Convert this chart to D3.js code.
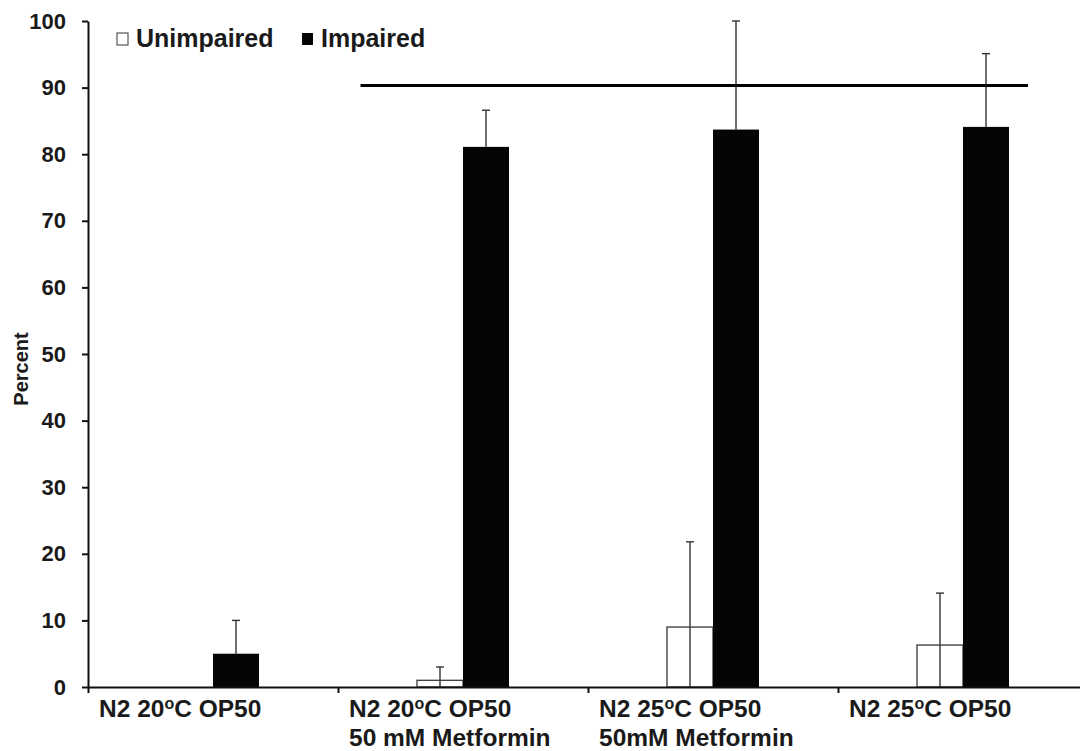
<!DOCTYPE html>
<html>
<head>
<meta charset="utf-8">
<script src="https://cdn.jsdelivr.net/npm/d3@7"></script>
<style>
  body { margin: 0; background: #fff; }
  text { font-family: "Liberation Sans", Arial, sans-serif; font-weight: bold; fill: #1a1a1a; }
</style>
</head>
<body>
<div id="chart"></div>
<script>
// categories (each line of the label, "^o" marks the superscript o)
var categories = [
    ["N2 20^oC OP50"],
    ["N2 20^oC OP50", "50 mM Metformin"],
    ["N2 25^oC OP50", "50mM Metformin"],
    ["N2 25^oC OP50"]
];
var seriesNames = ["Unimpaired", "Impaired"];
var unimpaired = [0, 1.0, 9.0, 6.3];
var unimpairedErr = [0, 2.0, 12.8, 7.8];
var impaired = [5.0, 81.1, 83.7, 84.1];
var impairedErr = [5.0, 5.5, 16.3, 11.0];
var yTicks = [0, 10, 20, 30, 40, 50, 60, 70, 80, 90, 100];
// significance bar: y value, from category index + fraction to category index + fraction
var sigLevel = 90.3;
var sigFrom = 1.09, sigTo = 3.76;

var width = 1080, height = 751;
var margin = {left: 88, top: 21, bottom: 64};
var plotRight = 1088;

var svg = d3.select("#chart").append("svg")
    .attr("width", width)
    .attr("height", height);

var y = d3.scaleLinear().domain([0, 100]).range([height - margin.bottom, margin.top]);
var x = d3.scaleBand().domain(d3.range(categories.length)).range([margin.left, plotRight]).padding(0);
var xPos = d3.scaleLinear().domain([0, categories.length]).range([margin.left, plotRight]);
var bw = x.bandwidth();
var barW = 46;
var x1 = d3.scaleBand().domain(seriesNames).range([bw / 2 - barW, bw / 2 + barW]).padding(0);

// bars
var rows = categories.map(function(c, i) {
    return [
        {s: "Unimpaired", v: unimpaired[i], e: unimpairedErr[i], i: i},
        {s: "Impaired", v: impaired[i], e: impairedErr[i], i: i}
    ];
});
var flat = [].concat.apply([], rows).filter(function(d) { return d.v > 0; });

// error bars (drawn under bars so the stem starts at the bar top)
var err = svg.append("g").selectAll("g")
    .data(flat)
    .enter().append("g");
err.append("line")
    .attr("x1", function(d) { return x(d.i) + x1(d.s) + x1.bandwidth() / 2; })
    .attr("x2", function(d) { return x(d.i) + x1(d.s) + x1.bandwidth() / 2; })
    .attr("y1", function(d) { return d.s === "Unimpaired" ? y(0) : y(d.v); })
    .attr("y2", function(d) { return y(d.v + d.e); })
    .attr("stroke", "#333")
    .attr("stroke-width", 1.4);
err.append("line")
    .attr("x1", function(d) { return x(d.i) + x1(d.s) + x1.bandwidth() / 2 - 4; })
    .attr("x2", function(d) { return x(d.i) + x1(d.s) + x1.bandwidth() / 2 + 4; })
    .attr("y1", function(d) { return y(d.v + d.e); })
    .attr("y2", function(d) { return y(d.v + d.e); })
    .attr("stroke", "#333")
    .attr("stroke-width", 1.4);

svg.append("g").selectAll("rect")
    .data(flat)
    .enter().append("rect")
    .attr("x", function(d) { return x(d.i) + x1(d.s); })
    .attr("y", function(d) { return y(d.v); })
    .attr("width", x1.bandwidth())
    .attr("height", function(d) { return y(0) - y(d.v); })
    .attr("fill", function(d) { return d.s === "Unimpaired" ? "none" : "#050505"; })
    .attr("stroke", function(d) { return d.s === "Unimpaired" ? "#444" : "none"; })
    .attr("stroke-width", 1.4);

// significance line
svg.append("line")
    .attr("x1", xPos(sigFrom))
    .attr("x2", xPos(sigTo))
    .attr("y1", y(sigLevel))
    .attr("y2", y(sigLevel))
    .attr("stroke", "#000")
    .attr("stroke-width", 3);

// y axis
var yAxis = d3.axisLeft(y).tickValues(yTicks).tickSize(6).tickSizeOuter(0).tickPadding(16);
var gy = svg.append("g")
    .attr("transform", "translate(" + margin.left + ",0)")
    .call(yAxis);
gy.selectAll("path, line").attr("stroke", "#111").attr("stroke-width", 2);
gy.selectAll("text").style("font-size", "22px").attr("fill", "#1a1a1a");

// x axis: ticks at category boundaries
var xAxis = d3.axisBottom(xPos).tickValues(d3.range(categories.length)).tickFormat("").tickSize(6).tickSizeOuter(0);
var gx = svg.append("g")
    .attr("transform", "translate(0," + y(0) + ")")
    .call(xAxis);
gx.selectAll("path, line").attr("stroke", "#111").attr("stroke-width", 2);

// category labels
var lab = svg.append("g").selectAll("text")
    .data(categories)
    .enter().append("text")
    .attr("x", function(d, i) { return x(i) + 11; })
    .attr("y", y(0) + 30)
    .style("font-size", "24.5px");
lab.each(function(lines) {
    var t = d3.select(this);
    lines.forEach(function(line, k) {
        var parts = line.split("^o");
        t.append("tspan")
            .attr("x", t.attr("x"))
            .attr("dy", k === 0 ? 0 : 29)
            .text(parts[0]);
        if (parts.length > 1) {
            t.append("tspan").attr("dy", -8).style("font-size", "16px").text("o");
            t.append("tspan").attr("dy", 8).text(parts[1]);
        }
    });
});

// y axis title
svg.append("text")
    .attr("transform", "translate(28," + 369 + ") rotate(-90)")
    .attr("text-anchor", "middle")
    .style("font-size", "20px")
    .text("Percent");

// legend
var legend = svg.append("g").selectAll("g")
    .data(seriesNames)
    .enter().append("g")
    .attr("transform", function(d, i) { return "translate(" + (i === 0 ? 117 : 302) + ",33)"; });
legend.append("rect")
    .attr("width", 11)
    .attr("height", 12)
    .attr("fill", function(d) { return d === "Unimpaired" ? "#fff" : "#050505"; })
    .attr("stroke", function(d) { return d === "Unimpaired" ? "#555" : "none"; })
    .attr("stroke-width", 1.2);
legend.append("text")
    .attr("x", 19)
    .attr("y", 14)
    .style("font-size", "25px")
    .text(function(d) { return d; });
</script>
</body>
</html>
